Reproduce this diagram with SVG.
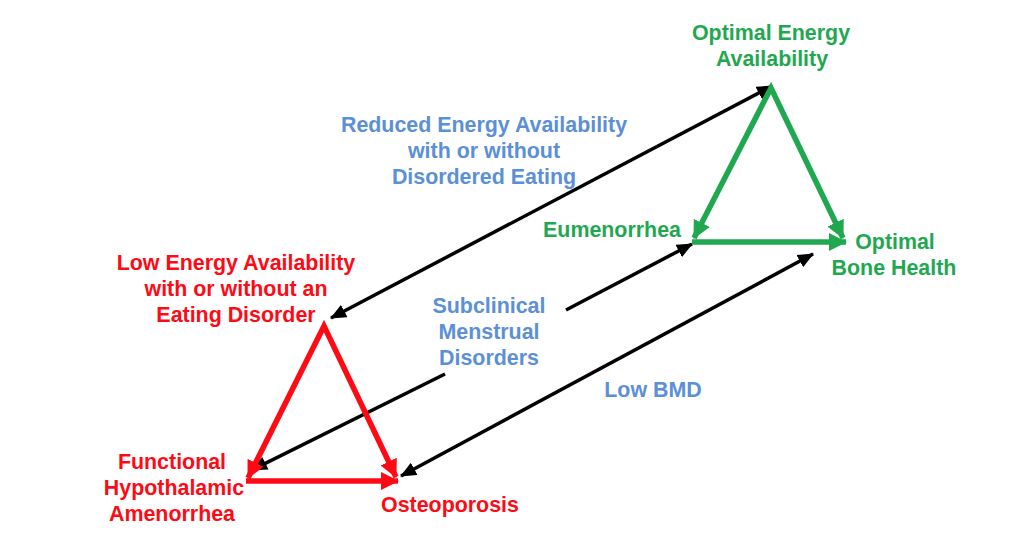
<svg xmlns="http://www.w3.org/2000/svg" width="1024" height="539" viewBox="0 0 1024 539">
<style>
text{font-family:"Liberation Sans",Arial,sans-serif;font-weight:bold;font-size:21.4px;text-anchor:middle}
.red{fill:#ff0a14}
.green{fill:#1fa84f}
.blue{fill:#5b8fd6}
.blk{stroke:#000;stroke-width:3.5;fill:none}
.rl{stroke:#ff0a14;stroke-width:5.5;fill:none;stroke-linejoin:miter}
.gl{stroke:#1fa84f;stroke-width:5.5;fill:none;stroke-linejoin:miter}
</style>
<defs>
<marker id="ab" markerUnits="userSpaceOnUse" markerWidth="16" markerHeight="14" refX="15" refY="7" orient="auto-start-reverse"><path d="M0,0 L16,7 L0,14 z" fill="#000"/></marker>
<marker id="ar" markerUnits="userSpaceOnUse" markerWidth="18" markerHeight="18" refX="17" refY="9" orient="auto-start-reverse"><path d="M0,0 L18,9 L0,18 z" fill="#ff0a14"/></marker>
<marker id="ag" markerUnits="userSpaceOnUse" markerWidth="18" markerHeight="18" refX="17" refY="9" orient="auto-start-reverse"><path d="M0,0 L18,9 L0,18 z" fill="#1fa84f"/></marker>
</defs>
<rect width="1024" height="539" fill="#fff"/>
<g id="connectors">
<line class="blk" x1="331" y1="318" x2="772" y2="86" marker-start="url(#ab)" marker-end="url(#ab)"/>
<line class="blk" x1="566" y1="310" x2="692" y2="244" marker-end="url(#ab)"/>
<line class="blk" x1="445" y1="374" x2="252" y2="470" marker-end="url(#ab)"/>
<line class="blk" x1="401" y1="476" x2="813" y2="254" marker-start="url(#ab)" marker-end="url(#ab)"/>
</g>
<g id="red-triangle">
<polyline class="rl" points="248,478 324,326 396,477" marker-start="url(#ar)" marker-end="url(#ar)"/>
<line class="rl" x1="246" y1="481" x2="398" y2="481" marker-end="url(#ar)"/>
</g>
<g id="green-triangle">
<polyline class="gl" points="694,238 771,88 843,238" marker-start="url(#ag)" marker-end="url(#ag)"/>
<line class="gl" x1="692" y1="242" x2="846" y2="242" marker-end="url(#ag)"/>
</g>
<g id="optimal-energy">
<text class="green" x="771" y="40">Optimal Energy</text>
<text class="green" x="772" y="66">Availability</text>
</g>
<g id="reduced-energy">
<text class="blue" x="484" y="132">Reduced Energy Availability</text>
<text class="blue" x="484" y="158">with or without</text>
<text class="blue" x="484" y="184">Disordered Eating</text>
</g>
<g id="eumenorrhea">
<text class="green" x="612" y="237">Eumenorrhea</text>
</g>
<g id="optimal-bone">
<text class="green" x="895" y="249">Optimal</text>
<text class="green" x="894" y="275">Bone Health</text>
</g>
<g id="low-energy">
<text class="red" x="236" y="270">Low Energy Availability</text>
<text class="red" x="236" y="296">with or without an</text>
<text class="red" x="236" y="322">Eating Disorder</text>
</g>
<g id="subclinical">
<text class="blue" x="489" y="313">Subclinical</text>
<text class="blue" x="489" y="339">Menstrual</text>
<text class="blue" x="489" y="365">Disorders</text>
</g>
<g id="low-bmd">
<text class="blue" x="653" y="397">Low BMD</text>
</g>
<g id="fha">
<text class="red" x="172" y="469">Functional</text>
<text class="red" x="174" y="495">Hypothalamic</text>
<text class="red" x="172" y="521">Amenorrhea</text>
</g>
<g id="osteoporosis">
<text class="red" x="450" y="512">Osteoporosis</text>
</g>
</svg>
